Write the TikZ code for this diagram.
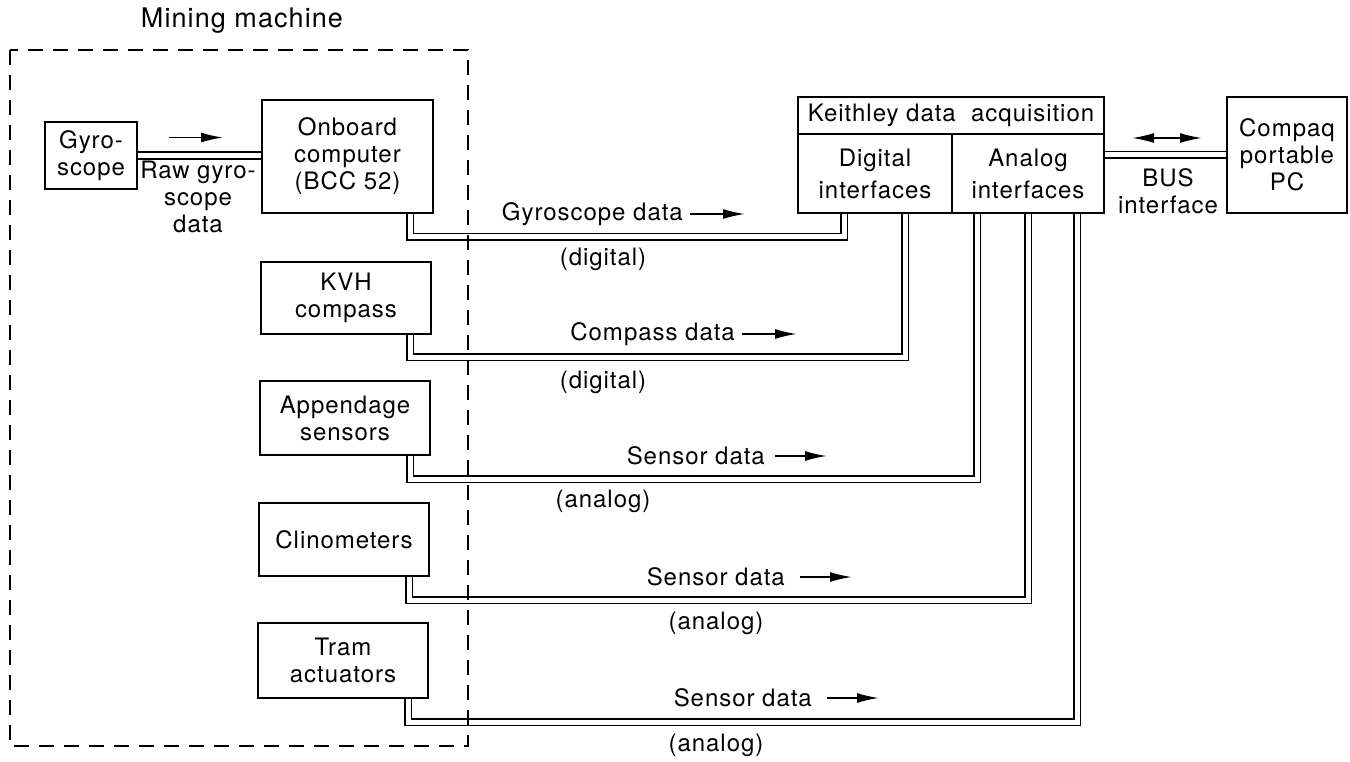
\documentclass[tikz,border=0pt]{standalone}
\usepackage{fontspec}
\setmainfont{TeX Gyre Heros}[LetterSpace=4]
\usepackage{tikz}
\usetikzlibrary{arrows.meta,backgrounds}

\begin{document}
\begin{tikzpicture}[x=1pt,y=-1pt,font=\fontsize{24}{27}\selectfont]
	\tikzstyle{box}=[rectangle,draw,line width=2.5pt,align=center,inner sep=0pt,outer sep=0pt]
	\tikzstyle{lbl}=[align=center,inner sep=0pt]
	\tikzstyle{bus}=[draw,double,line width=1.8pt,double distance=5pt]
	\tikzstyle{flow}=[line width=1.8pt,-{Latex[length=22pt,width=10pt]}]
	\tikzstyle{machine}=[line width=2.5pt,dash pattern=on 15pt off 10pt]
	
	\useasboundingbox (0,0) rectangle (1350,762);
	
	\node[lbl,font=\fontsize{27}{30}\selectfont] (mining) at (242,21) {Mining machine};
	\draw[machine] (10,50) rectangle (468,746);
	
	\node[box,minimum width=92pt,minimum height=67pt] (gyro) at (91,155.5) {Gyro-\\scope};
	\node[box,minimum width=171pt,minimum height=113pt] (onboard) at (347.5,156.5) {Onboard\\computer\\(BCC 52)};
	\node[box,minimum width=170pt,minimum height=72pt] (kvh) at (346,298) {KVH\\compass};
	\node[box,minimum width=170pt,minimum height=74pt] (append) at (345,418) {Appendage\\sensors};
	\node[box,minimum width=170pt,minimum height=73pt] (clino) at (344,539.5) {Clinometers};
	\node[box,minimum width=170pt,minimum height=75pt] (tram) at (343,660.5) {Tram\\actuators};
	
	\node[box,minimum width=306pt,minimum height=116pt] (keithley) at (951,155) {};
	\node[box,anchor=north west,minimum width=306pt,minimum height=37pt] (acq) at (keithley.north west) {Keithley data\ \ acquisition};
	\node[box,anchor=north west,minimum width=154pt,minimum height=79pt] (digital) at (acq.south west) {Digital\\[5pt]interfaces};
	\node[box,anchor=north east,minimum width=152pt,minimum height=79pt] (analog) at (acq.south east) {Analog\\[5pt]interfaces};
	\node[box,minimum width=120pt,minimum height=116pt] (compaq) at (1287,155) {Compaq\\portable\\PC};
	
	\node[lbl] (raw) at (198,197) {Raw gyro-\\scope\\data};
	\node[lbl] (busif) at (1168,191) {BUS\\interface};
	\draw[flow] ([shift={(32pt,18pt)}]gyro.east) -- ++(54,0);
	\draw[flow,{Latex[length=22pt,width=10pt]}-{Latex[length=22pt,width=10pt]}] ([shift={(28pt,17pt)}]keithley.east) -- ++(70,0);
	
	\begin{pgfonlayer}{background}
		\draw[bus] (gyro.east) -- (gyro.east -| onboard.west);
		\draw[bus] (keithley.east) -- (keithley.east -| compaq.west);
		\draw[bus] ([xshift=46pt]digital.south west) -- ++(0,24) -| ([xshift=-23pt]onboard.south east);
		\draw[bus] ([xshift=107pt]digital.south west) -- ++(0,144) -| ([xshift=-21pt]kvh.south east);
		\draw[bus] ([xshift=25pt]analog.south west) -- ++(0,266) -| ([xshift=-20pt]append.south east);
		\draw[bus] ([xshift=76pt]analog.south west) -- ++(0,387) -| ([xshift=-20pt]clino.south east);
		\draw[bus] ([xshift=125pt]analog.south west) -- ++(0,509) -| ([xshift=-20pt]tram.south east);
	\end{pgfonlayer}
	
	\node[lbl,anchor=east] (gyrodata) at (683,214) {Gyroscope data};
	\draw[flow] ([xshift=7pt]gyrodata.east) -- ++(55,0);
	\node[lbl] (gyrokind) at (603,259) {(digital)};
	\node[lbl,anchor=east] (compdata) at (735,334) {Compass data};
	\draw[flow] ([xshift=7pt]compdata.east) -- ++(55,0);
	\node[lbl] (compkind) at (603,382) {(digital)};
	\node[lbl,anchor=east] (appdata) at (765,456) {Sensor data};
	\draw[flow] ([xshift=10pt]appdata.east) -- ++(52,0);
	\node[lbl] (appkind) at (603,501) {(analog)};
	\node[lbl,anchor=east] (clindata) at (785,577) {Sensor data};
	\draw[flow] ([xshift=15pt]clindata.east) -- ++(52,0);
	\node[lbl] (clinkind) at (716,623) {(analog)};
	\node[lbl,anchor=east] (tramdata) at (812,698) {Sensor data};
	\draw[flow] ([xshift=15pt]tramdata.east) -- ++(52,0);
	\node[lbl] (tramkind) at (716,745) {(analog)};
\end{tikzpicture}
\end{document}
